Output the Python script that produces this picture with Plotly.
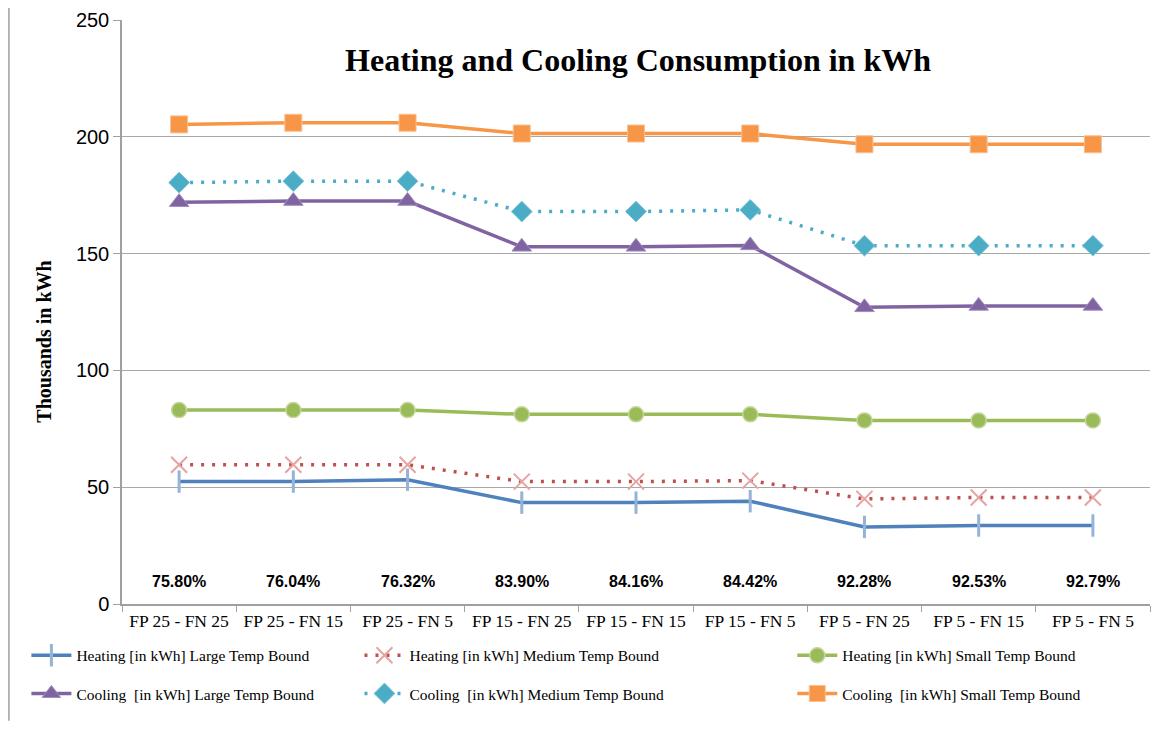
import plotly.graph_objects as go

categories = ["FP 25 - FN 25", "FP 25 - FN 15", "FP 25 - FN 5",
              "FP 15 - FN 25", "FP 15 - FN 15", "FP 15 - FN 5",
              "FP 5 - FN 25", "FP 5 - FN 15", "FP 5 - FN 5"]

heating_large = [52.4, 52.4, 53.2, 43.4, 43.4, 44.0, 33.0, 33.6, 33.6]
heating_medium = [59.6, 59.6, 59.6, 52.4, 52.4, 52.8, 45.0, 45.6, 45.6]
heating_small = [83.0, 83.0, 83.0, 81.2, 81.2, 81.2, 78.6, 78.6, 78.6]
cooling_large = [172.0, 172.5, 172.5, 152.9, 152.9, 153.5, 127.0, 127.6, 127.6]
cooling_medium = [180.4, 181.0, 181.0, 168.0, 168.0, 168.7, 153.4, 153.4, 153.4]
cooling_small = [205.3, 206.0, 206.0, 201.4, 201.4, 201.4, 196.8, 196.8, 196.8]

pct_labels = ["75.80%", "76.04%", "76.32%", "83.90%", "84.16%", "84.42%",
              "92.28%", "92.53%", "92.79%"]
pct_label_y = 9.8

serif = "Liberation Serif, Times New Roman, serif"
sans = "Liberation Sans, Arial, sans-serif"

series = [
    dict(name="Heating [in kWh] Large Temp Bound", y=heating_large, color="#4f81bd", dash="solid",
         marker=dict(symbol="line-ns", size=16, color="#95b3d7", line=dict(color="#95b3d7", width=3)),
         legend="legend"),
    dict(name="Cooling  [in kWh] Large Temp Bound", y=cooling_large, color="#8064a2", dash="solid",
         marker=dict(symbol="triangle-up", size=17, color="#8064a2", line=dict(color="#a18cbd", width=1)),
         legend="legend"),
    dict(name="Heating [in kWh] Medium Temp Bound", y=heating_medium, color="#c0504d", dash="3px,8px",
         marker=dict(symbol="x-thin", size=16, color="#e6a3a1", line=dict(color="#e6a3a1", width=2)),
         legend="legend2"),
    dict(name="Cooling  [in kWh] Medium Temp Bound", y=cooling_medium, color="#4bacc6", dash="3px,8px",
         marker=dict(symbol="diamond", size=16, color="#4bacc6", line=dict(color="#7fc4d7", width=1)),
         legend="legend2"),
    dict(name="Heating [in kWh] Small Temp Bound", y=heating_small, color="#9bbb59", dash="solid",
         marker=dict(symbol="circle", size=15, color="#9bbb59", line=dict(color="#c3d69b", width=1.5)),
         legend="legend3"),
    dict(name="Cooling  [in kWh] Small Temp Bound", y=cooling_small, color="#f79646", dash="solid",
         marker=dict(symbol="square", size=17, color="#f79646", line=dict(color="#fac090", width=1)),
         legend="legend3"),
]

fig = go.Figure()
for s in series:
    fig.add_trace(go.Scatter(
        x=categories, y=s["y"], name=s["name"], mode="lines+markers",
        line=dict(color=s["color"], width=3.5, dash=s["dash"]),
        marker=s["marker"], legend=s["legend"], legendgroup=s["name"],
    ))

for c, t in zip(categories, pct_labels):
    fig.add_annotation(x=c, y=pct_label_y, text="<b>" + t + "</b>", showarrow=False,
                       font=dict(family=sans, size=16, color="#000000"))

fig.add_annotation(xref="paper", yref="paper", x=-0.076, y=0.449, xanchor="center", yanchor="middle",
                   text="<b>Thousands in kWh</b>", textangle=-90, showarrow=False,
                   font=dict(family=serif, size=20, color="#000000"))

fig.add_shape(type="line", xref="paper", yref="paper", x0=-0.110, x1=-0.110,
              y0=1.03, y1=-0.2, line=dict(color="#a0a0a0", width=1.5))

legend_common = dict(orientation="v", yanchor="top", y=-0.0595, xanchor="left",
                     font=dict(family=serif, size=15.5, color="#000000"),
                     bgcolor="rgba(0,0,0,0)", tracegroupgap=15, itemwidth=40)

fig.update_layout(
    width=1156, height=724,
    margin=dict(l=114, r=14, t=12, b=128, autoexpand=False),
    paper_bgcolor="white", plot_bgcolor="white",
    title=dict(text="<b>Heating and Cooling Consumption in kWh</b>", x=0.545, xanchor="center",
               y=0.928, yanchor="middle", font=dict(family=serif, size=32, color="#000000")),
    xaxis=dict(type="category", range=[-0.5, 8.5], showline=True, linecolor="#a0a0a0", linewidth=1.5,
               ticks="outside", tickson="boundaries", ticklen=6, tickcolor="#a0a0a0",
               showgrid=False, automargin=False, ticklabeloverflow="allow",
               tickfont=dict(family=serif, size=17.5, color="#000000")),
    yaxis=dict(range=[0, 250], tickvals=[0, 50, 100, 150, 200, 250], showline=True,
               linecolor="#a0a0a0", linewidth=1.5, ticks="outside", ticklen=7, tickcolor="#a0a0a0",
               showgrid=True, gridcolor="#a8a8a8", gridwidth=1.2, zeroline=False, automargin=False,
               ticklabeloverflow="allow",
               tickfont=dict(family=sans, size=20, color="#000000")),
    legend=dict(legend_common, x=-0.093),
    legend2=dict(legend_common, x=0.231),
    legend3=dict(legend_common, x=0.652),
)

fig.write_html("out.html")
